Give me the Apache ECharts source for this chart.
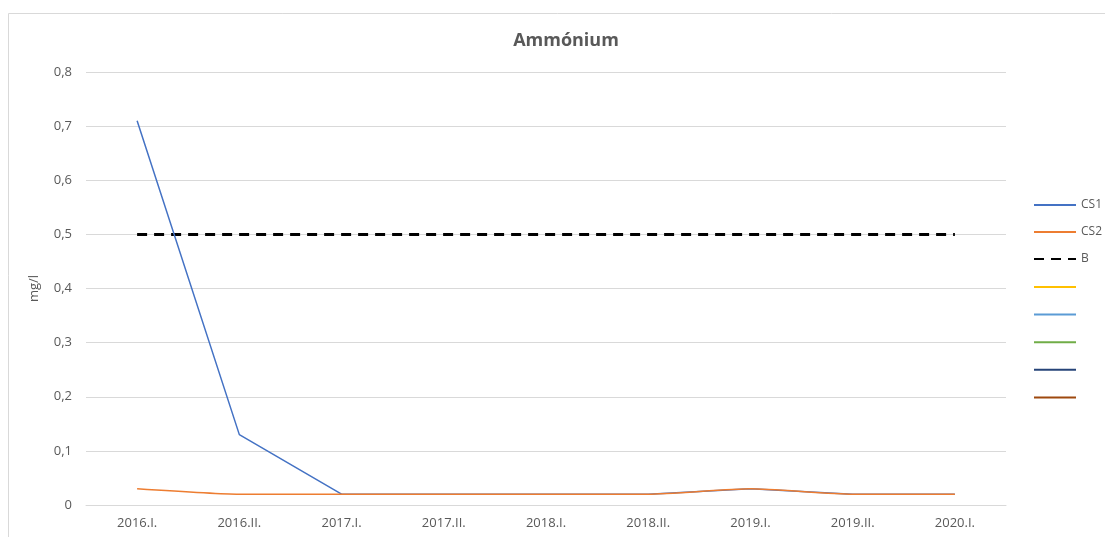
<!DOCTYPE html>
<html>
<head>
<meta charset="utf-8">
<script src="https://cdn.jsdelivr.net/npm/echarts@6/dist/echarts.min.js"></script>
<style>
  html, body { margin: 0; padding: 0; background: #fff; }
  #chart { width: 1105px; height: 537px; }
</style>
</head>
<body>
<div id="chart"></div>
<script>
// categories and values
const periods = ['2016.I.', '2016.II.', '2017.I.', '2017.II.', '2018.I.', '2018.II.', '2019.I.', '2019.II.', '2020.I.']
const cs1 = [0.71, 0.13, 0.02, 0.02, 0.02, 0.02, 0.03, 0.02, 0.02]
const cs2 = [0.03, 0.02, 0.02, 0.02, 0.02, 0.02, 0.03, 0.02, 0.02]
const limitB = [0.5, 0.5, 0.5, 0.5, 0.5, 0.5, 0.5, 0.5, 0.5]
const yTicks = [0, 0.1, 0.2, 0.3, 0.4, 0.5, 0.6, 0.7, 0.8]
// unnamed series that only show in the legend
const emptyColors = ['#FFC000', '#5B9BD5', '#70AD47', '#264478', '#9E480E']

const font = 'Open Sans'
const chart = echarts.init(document.getElementById('chart'))

const lineSeries = (name, data, color, extra) => ({
  name,
  type: 'line',
  data,
  symbol: 'none',
  smooth: false,
  lineStyle: { color, width: 1.5 },
  itemStyle: { color },
  animation: false,
  ...extra,
})

const series = [
  lineSeries('CS1', cs1, '#4472C4', { z: 3 }),
  lineSeries('CS2', cs2, '#ED7D31', { z: 4, smooth: 0.2 }),
  lineSeries('B', limitB, '#000000', { z: 2, lineStyle: { color: '#000', width: 3, type: [10, 7] } }),
]
emptyColors.forEach((c, i) => {
  series.push(lineSeries(' '.repeat(i + 1), [], c))
})

chart.setOption({
  backgroundColor: '#fff',
  textStyle: { fontFamily: font },
  title: {
    text: 'Ammónium',
    left: 561,
    top: 27,
    textAlign: 'center',
    textStyle: { fontFamily: font, fontSize: 18, fontWeight: 'bold', color: '#595959' },
  },
  graphic: [{
    type: 'rect',
    shape: { x: 8.5, y: 13.5, width: 1300, height: 700 },
    style: { fill: 'none', stroke: '#d9d9d9', lineWidth: 1 },
    silent: true,
    z: -1,
  }],
  legend: {
    orient: 'vertical',
    left: 1028,
    top: 194,
    itemWidth: 42,
    itemHeight: 14,
    itemGap: 15,
    itemStyle: { opacity: 0 },
    textStyle: { fontFamily: font, fontSize: 12, color: '#595959' },
    formatter: name => name.trim(),
    data: series.map(s => s.name),
  },
  grid: { left: 86, right: 99, top: 72, bottom: 32, containLabel: false },
  xAxis: {
    type: 'category',
    data: periods,
    boundaryGap: true,
    axisLine: { lineStyle: { color: '#d9d9d9', width: 1 } },
    axisTick: { show: false },
    axisLabel: { color: '#595959', fontSize: 13, fontFamily: font, margin: 12 },
  },
  yAxis: {
    type: 'value',
    min: 0,
    max: 0.8,
    interval: 0.1,
    name: 'mg/l',
    nameLocation: 'middle',
    nameGap: 45,
    nameRotate: 90,
    nameTextStyle: { color: '#595959', fontSize: 13, fontFamily: font },
    axisLine: { show: false },
    axisTick: { show: false },
    splitLine: { lineStyle: { color: '#d9d9d9', width: 1 } },
    axisLabel: {
      color: '#595959',
      fontSize: 13,
      fontFamily: font,
      margin: 14,
      formatter: v => {
        const t = yTicks.find(k => Math.abs(k - v) < 1e-9)
        return t === 0 ? '0' : String(+t.toFixed(1)).replace('.', ',')
      },
    },
  },
  series,
})
</script>
</body>
</html>
